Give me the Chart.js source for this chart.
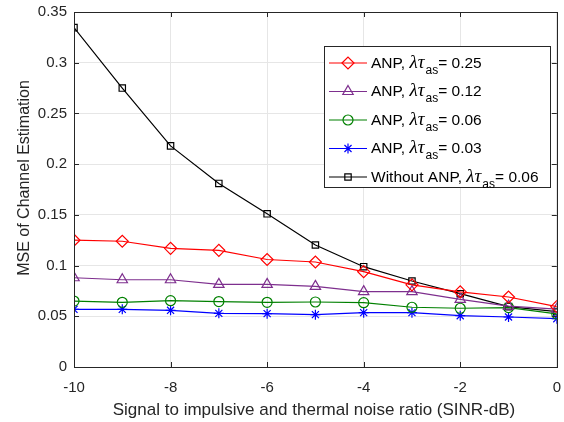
<!DOCTYPE html>
<html>
<head>
<meta charset="utf-8">
<script src="https://cdn.jsdelivr.net/npm/chart.js@4.4.1/dist/chart.umd.min.js"></script>
<style>
  html, body { margin: 0; padding: 0; background: #fff; }
  #wrap { width: 564px; height: 422px; }
</style>
</head>
<body>
<div id="wrap"><canvas id="chart" width="564" height="422"></canvas></div>
<script>
// SINR values (dB) on the x axis
const sinr = [-10, -9, -8, -7, -6, -5, -4, -3, -2, -1, 0];

// MSE per curve
const anp025 = [0.125, 0.124, 0.117, 0.115, 0.106, 0.1035, 0.094, 0.081, 0.074, 0.069, 0.0595];
const anp012 = [0.088, 0.086, 0.086, 0.0815, 0.0815, 0.0795, 0.0743, 0.0743, 0.0667, 0.060, 0.057];
const anp006 = [0.065, 0.0638, 0.0654, 0.0645, 0.0638, 0.0641, 0.0634, 0.0589, 0.0579, 0.0586, 0.0523];
const anp003 = [0.0569, 0.0569, 0.0559, 0.0529, 0.0526, 0.0516, 0.0536, 0.0536, 0.0506, 0.0493, 0.0476];
const noAnp006 = [0.3346, 0.275, 0.218, 0.181, 0.151, 0.1203, 0.0989, 0.0848, 0.0723, 0.0595, 0.0546];

const yTicks = [0, 0.05, 0.1, 0.15, 0.2, 0.25, 0.3, 0.35];
const xTicks = [-10, -8, -6, -4, -2, 0];

const xTitle = "Signal to impulsive and thermal noise ratio (SINR-dB)";
const yTitle = "MSE of Channel Estimation";
const legendPrefix = ["ANP, ", "ANP, ", "ANP, ", "ANP, ", "Without ANP, "];
const legendValue = ["0.25", "0.12", "0.06", "0.03", "0.06"];

const FONT = "'Liberation Sans', Arial, Helvetica, sans-serif";

const pts = arr => arr.map((v, i) => ({ x: sinr[i], y: v }));

function series(data, color, style, radius) {
    return {
        data: pts(data),
        borderColor: color,
        backgroundColor: "rgba(0,0,0,0)",
        borderWidth: 1.2,
        pointStyle: style,
        pointRadius: radius,
        pointBorderColor: color,
        pointBackgroundColor: "rgba(0,0,0,0)",
        pointBorderWidth: 1.2,
        tension: 0,
    };
}

const datasets = [
    series(anp025, "#ff0000", "rectRot", 6),
    series(anp012, "#7e2f8e", "triangle", 6),
    series(anp006, "#008000", "circle", 5),
    series(anp003, "#0000ff", "star", 5),
    series(noAnp006, "#000000", "rect", 4.5),
];

// box, inner ticks, axis titles and the math-text legend
const framePlugin = {
    id: "frame",
    afterDraw(chart) {
        const { ctx, chartArea: a, scales } = chart;
        ctx.save();
        ctx.strokeStyle = "#262626";
        ctx.lineWidth = 1;
        ctx.strokeRect(Math.round(a.left) + 0.5, Math.round(a.top) + 0.5,
            Math.round(a.right - a.left), Math.round(a.bottom - a.top));
        ctx.beginPath();
        xTicks.forEach(t => {
            const x = Math.round(scales.x.getPixelForValue(t)) + 0.5;
            ctx.moveTo(x, a.bottom); ctx.lineTo(x, a.bottom - 5);
            ctx.moveTo(x, a.top); ctx.lineTo(x, a.top + 5);
        });
        yTicks.forEach(t => {
            const y = Math.round(scales.y.getPixelForValue(t)) + 0.5;
            ctx.moveTo(a.left, y); ctx.lineTo(a.left + 5, y);
            ctx.moveTo(a.right, y); ctx.lineTo(a.right - 5, y);
        });
        ctx.stroke();

        // axis titles
        ctx.fillStyle = "#262626";
        ctx.textBaseline = "alphabetic";
        ctx.textAlign = "center";
        ctx.font = "17px " + FONT;
        ctx.fillText(xTitle, 314, 415);
        ctx.translate(29, 178);
        ctx.rotate(-Math.PI / 2);
        ctx.font = "16px " + FONT;
        ctx.fillText(yTitle, 0, 0);
        ctx.setTransform(1, 0, 0, 1, 0, 0);
        ctx.textAlign = "left";

        // legend
        const bx = 324.5, by = 46.5, bw = 226, bh = 141;
        ctx.fillStyle = "#fff";
        ctx.fillRect(bx, by, bw, bh);
        ctx.strokeStyle = "#262626";
        ctx.strokeRect(bx, by, bw, bh);

        datasets.forEach((ds, i) => {
            const cy = 63 + i * 28.5;
            ctx.strokeStyle = ds.borderColor;
            ctx.lineWidth = 1.2;
            ctx.beginPath();
            ctx.moveTo(329, cy); ctx.lineTo(367, cy);
            ctx.stroke();
            ctx.fillStyle = "rgba(0,0,0,0)";
            Chart.helpers.drawPoint(ctx, {
                pointStyle: ds.pointStyle, radius: ds.pointRadius,
                borderWidth: 1.2, rotation: 0
            }, 348, cy);

            let x = 371;
            const base = cy + 4.5;
            ctx.fillStyle = "#000";
            ctx.font = "15.5px " + FONT;
            ctx.fillText(legendPrefix[i], x, base);
            x += ctx.measureText(legendPrefix[i]).width;
            ctx.font = "italic 19px 'Liberation Serif', 'DejaVu Serif', serif";
            ctx.fillText("λτ", x, base);
            x += ctx.measureText("λτ").width + 1;
            ctx.font = "12px " + FONT;
            ctx.fillText("as", x, base + 6);
            x += ctx.measureText("as").width;
            ctx.font = "15.5px " + FONT;
            ctx.fillText("= " + legendValue[i], x, base);
        });
        ctx.restore();
    }
};

new Chart(document.getElementById("chart"), {
    type: "line",
    data: { datasets },
    plugins: [framePlugin],
    options: {
        responsive: false,
        animation: false,
        layout: { padding: { top: 12, right: 7, left: 0, bottom: 0 } },
        plugins: { legend: { display: false }, tooltip: { enabled: false } },
        scales: {
            x: {
                type: "linear", min: -10, max: 0,
                afterBuildTicks: s => { s.ticks = xTicks.map(v => ({ value: v })); },
                afterFit: s => { s.height = 55; s.paddingLeft = 0; s.paddingRight = 0; },
                grid: { color: "#e6e6e6", lineWidth: 1, drawTicks: false },
                border: { display: false },
                ticks: { color: "#262626", font: { family: FONT, size: 15 }, padding: 12, maxRotation: 0 }
            },
            y: {
                type: "linear", min: 0, max: 0.35,
                afterBuildTicks: s => { s.ticks = yTicks.map(v => ({ value: v })); },
                afterFit: s => { s.width = 74; s.paddingTop = 0; s.paddingBottom = 0; },
                grid: { color: "#e6e6e6", lineWidth: 1, drawTicks: false },
                border: { display: false },
                ticks: {
                    color: "#262626", font: { family: FONT, size: 15 }, padding: 7,
                    callback: v => String(Number(v.toFixed(2)))
                }
            }
        }
    }
});
</script>
</body>
</html>
